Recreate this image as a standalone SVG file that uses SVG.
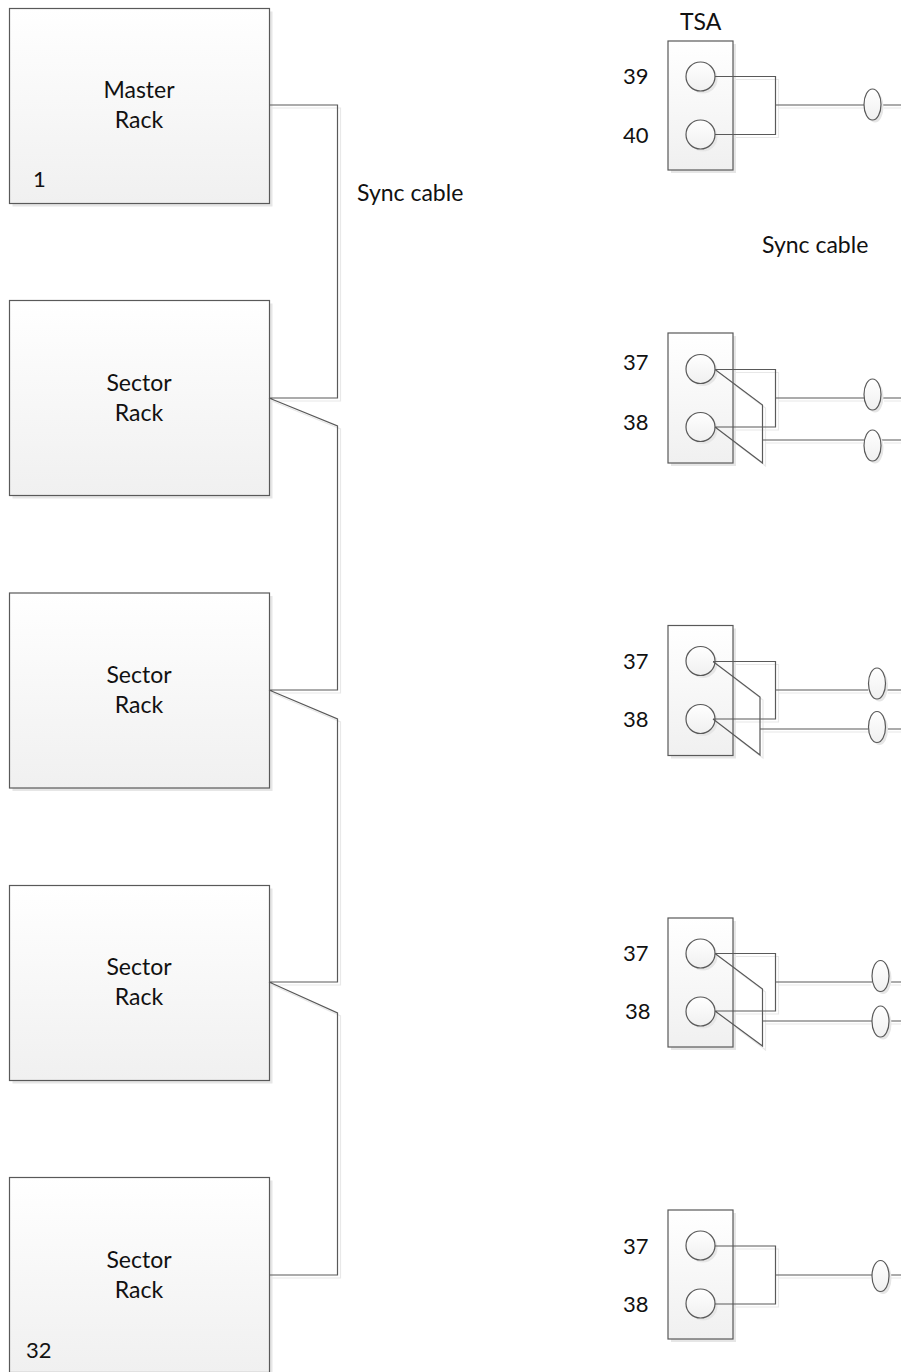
<svg xmlns="http://www.w3.org/2000/svg" width="901" height="1372" viewBox="0 0 901 1372">
<style>
text{font-family:"Lato","Open Sans",sans-serif;font-size:22px;fill:#111}
.m{text-anchor:middle;font-size:23px}
.w{font-size:23px}
.n{fill:url(#g);stroke:#595959;stroke-width:1.2}
.s{fill:#e6e6e6;stroke:none}
.c{fill:none;stroke:#595959;stroke-width:1.2}
.cs{fill:none;stroke:#e8e8e8;stroke-width:1.2}
</style>
<defs>
<linearGradient id="g" x1="0" y1="0" x2="0" y2="1"><stop offset="0" stop-color="#fff"/><stop offset="1" stop-color="#f0f0f0"/></linearGradient>
</defs>
<g id="shadows">
<rect class="s" x="12.500" y="11.500" width="260" height="195"/>
<rect class="s" x="12.500" y="303.500" width="260" height="195"/>
<rect class="s" x="12.500" y="596" width="260" height="195"/>
<rect class="s" x="12.500" y="888.500" width="260" height="195"/>
<rect class="s" x="12.500" y="1180.500" width="260" height="195"/>
<rect class="s" x="671" y="44" width="65" height="129"/>
<rect class="s" x="671" y="336" width="65" height="130"/>
<rect class="s" x="671" y="628.500" width="65" height="130"/>
<rect class="s" x="671" y="921" width="65" height="129"/>
<rect class="s" x="671" y="1213" width="65" height="129"/>
<path class="cs" d="M272 108H340.500V401H272M272 401L340.500 429V693H272M272 693L340.500 722V985H272M272 985L340.500 1016V1278H272"/>
<path class="cs" d="M718 79.500H778.500V137.500H718M778.500 108H867M884 108H901"/>
<path class="cs" d="M718 372.500H778.500V430H718M778.500 401H867M884 401H901M718 372.500L765.500 408V466L718 430M765.500 443H867M884 443H901"/>
<path class="cs" d="M716 664.500H778.500V722H716M778.500 693H871M888 693H901M716 664.500L763 700V758L716 722M763 732H871M888 732H901"/>
<path class="cs" d="M718 956.500H778.500V1014H718M778.500 985H871M888 985H901M718 956.500L765.500 992V1050L718 1014M765.500 1024H871M888 1024H901"/>
<path class="cs" d="M718 1249H778.500V1307H718M778.500 1278H871M888 1278H901"/>
</g>
<g id="rack1"><rect class="n" x="9.500" y="8.500" width="260" height="195"/><text class="m" x="139" y="98">Master</text><text class="m" x="139" y="128">Rack</text><text x="33" y="187">1</text></g>
<g id="rack2"><rect class="n" x="9.500" y="300.500" width="260" height="195"/><text class="m" x="139" y="391">Sector</text><text class="m" x="139" y="421">Rack</text></g>
<g id="rack3"><rect class="n" x="9.500" y="593" width="260" height="195"/><text class="m" x="139" y="683">Sector</text><text class="m" x="139" y="713">Rack</text></g>
<g id="rack4"><rect class="n" x="9.500" y="885.500" width="260" height="195"/><text class="m" x="139" y="975">Sector</text><text class="m" x="139" y="1005">Rack</text></g>
<g id="rack5"><rect class="n" x="9.500" y="1177.500" width="260" height="195"/><text class="m" x="139" y="1268">Sector</text><text class="m" x="139" y="1298">Rack</text><text x="26" y="1358">32</text></g>
<g id="tsa1"><rect class="n" x="668" y="41" width="65" height="129"/><circle class="s" cx="703" cy="79" r="14.500"/><circle class="s" cx="703" cy="137" r="14.500"/><circle class="n" cx="700.500" cy="76.500" r="14.500"/><circle class="n" cx="700.500" cy="134.500" r="14.500"/></g>
<g id="tsa2"><rect class="n" x="668" y="333" width="65" height="130"/><circle class="s" cx="703" cy="371.500" r="14.500"/><circle class="s" cx="703" cy="429.500" r="14.500"/><circle class="n" cx="700.500" cy="369" r="14.500"/><circle class="n" cx="700.500" cy="427" r="14.500"/></g>
<g id="tsa3"><rect class="n" x="668" y="625.500" width="65" height="130"/><circle class="s" cx="703" cy="663.500" r="14.500"/><circle class="s" cx="703" cy="721.500" r="14.500"/><circle class="n" cx="700.500" cy="661" r="14.500"/><circle class="n" cx="700.500" cy="719" r="14.500"/></g>
<g id="tsa4"><rect class="n" x="668" y="918" width="65" height="129"/><circle class="s" cx="703" cy="956" r="14.500"/><circle class="s" cx="703" cy="1014" r="14.500"/><circle class="n" cx="700.500" cy="953.500" r="14.500"/><circle class="n" cx="700.500" cy="1011.500" r="14.500"/></g>
<g id="tsa5"><rect class="n" x="668" y="1210" width="65" height="129"/><circle class="s" cx="703" cy="1248" r="14.500"/><circle class="s" cx="703" cy="1306" r="14.500"/><circle class="n" cx="700.500" cy="1245.500" r="14.500"/><circle class="n" cx="700.500" cy="1303.500" r="14.500"/></g>
<g id="connectors">
<path class="c" d="M269 105H337.500V398H269M269 398L337.500 426V690H269M269 690L337.500 719V982H269M269 982L337.500 1013V1275H269"/>
<path class="c" d="M715 76.500H775.500V134.500H715M775.500 105H864M881 105H901"/>
<path class="c" d="M715 369.500H775.500V427H715M775.500 398H864M881 398H901M715 369.500L762.500 405V463L715 427M762.500 440H864M881 440H901"/>
<path class="c" d="M713 661.500H775.500V719H713M775.500 690H868M885 690H901M713 661.500L760 697V755L713 719M760 729H868M885 729H901"/>
<path class="c" d="M715 953.500H775.500V1011H715M775.500 982H872M889 982H901M715 953.500L762.500 989V1046L715 1011M762.500 1021H872M889 1021H901"/>
<path class="c" d="M715 1246H775.500V1304H715M775.500 1275H872M889 1275H901"/>
</g>
<g id="plugs">
<ellipse class="s" cx="875" cy="107" rx="8.500" ry="15.500"/><ellipse class="n" cx="872.500" cy="104.500" rx="8.500" ry="15.500"/>
<ellipse class="s" cx="875" cy="397" rx="8.500" ry="15.500"/><ellipse class="n" cx="872.500" cy="394.500" rx="8.500" ry="15.500"/>
<ellipse class="s" cx="875" cy="448" rx="8.500" ry="15.500"/><ellipse class="n" cx="872.500" cy="445.500" rx="8.500" ry="15.500"/>
<ellipse class="s" cx="879.500" cy="686" rx="8.500" ry="15.500"/><ellipse class="n" cx="877" cy="683.500" rx="8.500" ry="15.500"/>
<ellipse class="s" cx="879.500" cy="729.500" rx="8.500" ry="15.500"/><ellipse class="n" cx="877" cy="727" rx="8.500" ry="15.500"/>
<ellipse class="s" cx="883" cy="978.500" rx="8.500" ry="15.500"/><ellipse class="n" cx="880.500" cy="976" rx="8.500" ry="15.500"/>
<ellipse class="s" cx="883" cy="1024" rx="8.500" ry="15.500"/><ellipse class="n" cx="880.500" cy="1021.500" rx="8.500" ry="15.500"/>
<ellipse class="s" cx="883" cy="1278.500" rx="8.500" ry="15.500"/><ellipse class="n" cx="880.500" cy="1276" rx="8.500" ry="15.500"/>
</g>
<g id="labels">
<text class="w" x="357" y="201">Sync cable</text>
<text class="w" x="762" y="253">Sync cable</text>
<text class="w" x="680" y="30">TSA</text>
<text x="623" y="84">39</text><text x="623" y="143">40</text>
<text x="623" y="370">37</text><text x="623" y="430">38</text>
<text x="623" y="669">37</text><text x="623" y="727">38</text>
<text x="623" y="961">37</text><text x="625" y="1019">38</text>
<text x="623" y="1254">37</text><text x="623" y="1312">38</text>
</g>
</svg>
